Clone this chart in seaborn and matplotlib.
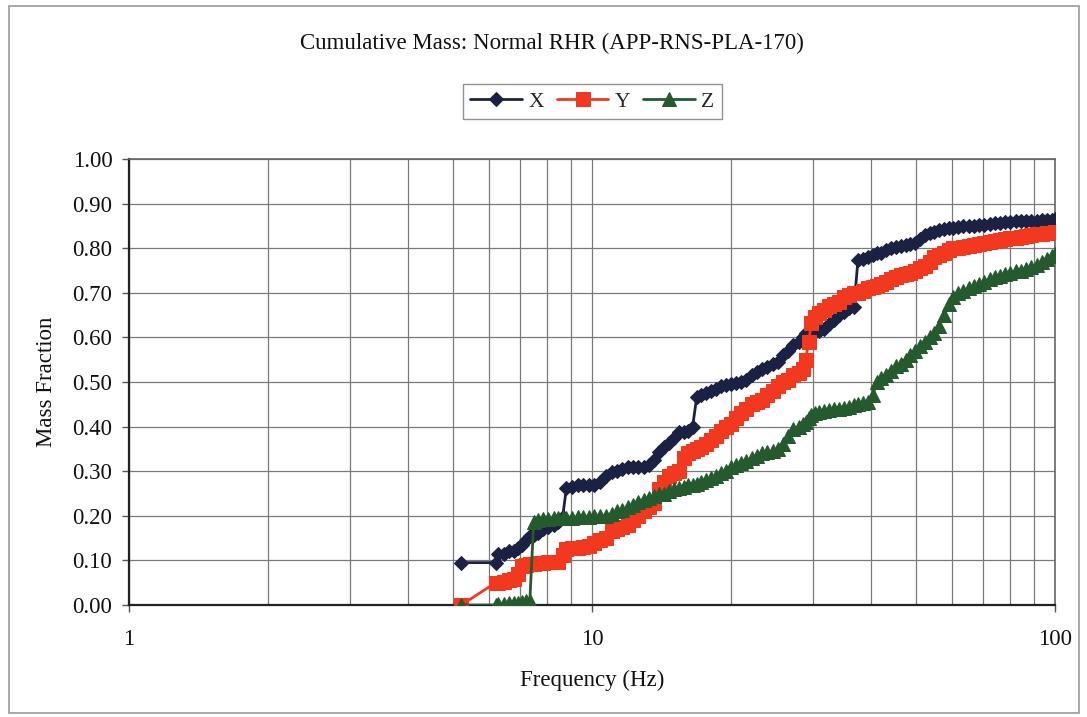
import matplotlib
matplotlib.use("Agg")
import matplotlib.pyplot as plt
from matplotlib.patches import Rectangle
from matplotlib.ticker import FixedLocator, NullFormatter, FixedFormatter
import numpy as np
import pandas as pd
import seaborn as sns

# Mode frequencies (Hz) shared by all three directions
freq = [5.22, 6.19, 6.28, 6.44, 6.61, 6.77, 6.93, 7.06, 7.21, 7.34,
        7.48, 7.63, 7.82, 8.03, 8.27, 8.45, 8.64, 8.80, 9.05, 9.31,
        9.58, 9.86, 10.12, 10.42, 10.73, 11.02, 11.31, 11.63, 11.95, 12.27,
        12.58, 12.92, 13.27, 13.62, 13.95, 14.31, 14.68, 15.04, 15.41, 15.76,
        16.12, 16.49, 16.83, 17.21, 17.62, 18.05, 18.51, 18.96, 19.44, 19.93,
        20.45, 20.98, 21.55, 22.14, 22.71, 23.30, 23.93, 24.55, 25.18, 25.86,
        26.52, 27.21, 27.93, 28.51, 28.94, 29.35, 29.78, 30.25, 30.90, 31.62,
        32.45, 33.28, 34.12, 35.01, 35.95, 36.80, 37.52, 38.45, 39.41, 40.38,
        41.20, 42.15, 43.18, 44.26, 45.29, 46.41, 47.56, 48.72, 49.85, 51.03,
        52.32, 53.60, 54.85, 56.20, 57.55, 58.90, 60.30, 61.80, 63.40, 65.10,
        66.80, 68.55, 70.40, 72.30, 74.20, 76.10, 78.05, 80.10, 82.25, 84.40,
        86.60, 88.90, 91.25, 93.60, 96.05, 98.40, 99.90]

# Cumulative mass fraction, X direction
mass_x = [0.095, 0.095, 0.115, 0.115, 0.120, 0.122, 0.128, 0.135, 0.145, 0.155,
          0.158, 0.162, 0.170, 0.175, 0.180, 0.185, 0.197, 0.262, 0.265, 0.268,
          0.268, 0.270, 0.270, 0.275, 0.290, 0.298, 0.300, 0.305, 0.310, 0.310,
          0.310, 0.310, 0.315, 0.325, 0.343, 0.355, 0.363, 0.375, 0.388, 0.388,
          0.390, 0.400, 0.466, 0.470, 0.475, 0.480, 0.485, 0.490, 0.493, 0.495,
          0.497, 0.500, 0.505, 0.515, 0.523, 0.530, 0.534, 0.540, 0.545, 0.560,
          0.570, 0.583, 0.590, 0.600, 0.610, 0.612, 0.612, 0.612, 0.615, 0.620,
          0.630, 0.640, 0.650, 0.658, 0.665, 0.668, 0.774, 0.776, 0.780, 0.785,
          0.790, 0.790, 0.795, 0.800, 0.803, 0.805, 0.808, 0.810, 0.812, 0.820,
          0.830, 0.834, 0.836, 0.840, 0.842, 0.845, 0.846, 0.848, 0.849, 0.850,
          0.850, 0.852, 0.853, 0.855, 0.856, 0.857, 0.858, 0.859, 0.860, 0.860,
          0.861, 0.862, 0.862, 0.863, 0.864, 0.864, 0.865]

# Cumulative mass fraction, Y direction
mass_y = [0.000, 0.050, 0.050, 0.052, 0.055, 0.058, 0.070, 0.088, 0.090, 0.092,
          0.093, 0.094, 0.095, 0.096, 0.097, 0.097, 0.112, 0.125, 0.127, 0.128,
          0.130, 0.132, 0.140, 0.146, 0.150, 0.165, 0.170, 0.175, 0.180, 0.190,
          0.200, 0.210, 0.220, 0.228, 0.260, 0.275, 0.290, 0.295, 0.300, 0.330,
          0.340, 0.345, 0.350, 0.355, 0.360, 0.370, 0.380, 0.390, 0.400, 0.405,
          0.420, 0.430, 0.440, 0.450, 0.455, 0.460, 0.470, 0.480, 0.490, 0.500,
          0.505, 0.515, 0.520, 0.530, 0.550, 0.590, 0.632, 0.645, 0.655, 0.662,
          0.670, 0.676, 0.680, 0.690, 0.695, 0.700, 0.700, 0.705, 0.710, 0.713,
          0.716, 0.720, 0.725, 0.730, 0.735, 0.740, 0.742, 0.745, 0.750, 0.755,
          0.760, 0.770, 0.780, 0.785, 0.790, 0.795, 0.800, 0.800, 0.803, 0.806,
          0.808, 0.810, 0.812, 0.814, 0.816, 0.818, 0.820, 0.822, 0.824, 0.826,
          0.828, 0.830, 0.832, 0.833, 0.834, 0.835, 0.836]

# Cumulative mass fraction, Z direction
mass_z = [0.000, 0.000, 0.003, 0.003, 0.004, 0.005, 0.005, 0.006, 0.008, 0.010,
          0.185, 0.190, 0.192, 0.193, 0.194, 0.195, 0.195, 0.195, 0.196, 0.197,
          0.197, 0.198, 0.199, 0.200, 0.200, 0.205, 0.210, 0.213, 0.220, 0.225,
          0.232, 0.235, 0.240, 0.245, 0.248, 0.250, 0.255, 0.260, 0.262, 0.265,
          0.268, 0.270, 0.272, 0.275, 0.280, 0.285, 0.290, 0.295, 0.300, 0.310,
          0.315, 0.318, 0.322, 0.330, 0.335, 0.340, 0.342, 0.345, 0.350, 0.360,
          0.380, 0.395, 0.400, 0.405, 0.410, 0.420, 0.425, 0.430, 0.432, 0.435,
          0.437, 0.440, 0.440, 0.442, 0.445, 0.448, 0.450, 0.452, 0.455, 0.470,
          0.500, 0.510, 0.515, 0.525, 0.535, 0.540, 0.550, 0.560, 0.570, 0.580,
          0.590, 0.600, 0.610, 0.625, 0.650, 0.675, 0.690, 0.700, 0.705, 0.710,
          0.715, 0.720, 0.725, 0.730, 0.735, 0.738, 0.742, 0.745, 0.748, 0.750,
          0.753, 0.757, 0.762, 0.768, 0.775, 0.782, 0.788]

series_names = ["X", "Y", "Z"]
series_colors = {"X": "#1b2142", "Y": "#f2391f", "Z": "#245a2e"}
series_markers = {"X": "D", "Y": "s", "Z": "^"}
series_msize = {"X": 7.5, "Y": 9.5, "Z": 10.5}

title_text = "Cumulative Mass: Normal RHR (APP-RNS-PLA-170)"
xlabel_text = "Frequency (Hz)"
ylabel_text = "Mass Fraction"
ytick_vals = [0.0, 0.1, 0.2, 0.3, 0.4, 0.5, 0.6, 0.7, 0.8, 0.9, 1.0]
xtick_vals = [1, 10, 100]

sns.set_theme(style="white")
plt.rcParams["font.family"] = ["Liberation Serif", "DejaVu Serif"]

fig = plt.figure(figsize=(10.87, 7.17), dpi=100)
ax = fig.add_axes([0.1187, 0.1562, 0.9706 - 0.1187, 0.7782 - 0.1562])

df = pd.DataFrame({"freq": freq, "X": mass_x, "Y": mass_y, "Z": mass_z})
for name in series_names:
    sns.lineplot(data=df, x="freq", y=name, ax=ax, color=series_colors[name],
                 marker=series_markers[name], markersize=series_msize[name],
                 markeredgecolor=series_colors[name], linewidth=2.0,
                 label=name, sort=False, zorder=3)

ax.set_xscale("log")
ax.set_xlim(1, 100)
ax.set_ylim(0, 1.0)

# grid: every decade subdivision and every 0.1 of mass fraction
minor_x = [m * d for d in (1, 10) for m in range(2, 10)]
ax.xaxis.set_major_locator(FixedLocator(xtick_vals))
ax.xaxis.set_major_formatter(FixedFormatter([str(v) for v in xtick_vals]))
ax.xaxis.set_minor_locator(FixedLocator(minor_x))
ax.xaxis.set_minor_formatter(NullFormatter())
ax.set_yticks(ytick_vals)
ax.set_yticklabels([f"{v:.2f}" for v in ytick_vals])
ax.grid(True, which="both", axis="x", color="#7a7a7a", linewidth=0.9)
ax.grid(True, which="major", axis="y", color="#7a7a7a", linewidth=0.9)
ax.set_axisbelow(True)

ax.tick_params(axis="both", which="major", direction="out", length=5,
               width=1.0, color="#555555", labelsize=16.5, pad=7, colors="#111111",
               bottom=True, left=True)
ax.tick_params(axis="x", which="minor", length=0)
ax.tick_params(axis="x", which="major", pad=12)

for side in ("left", "bottom"):
    ax.spines[side].set_color("#222222")
    ax.spines[side].set_linewidth(1.6)
for side in ("top", "right"):
    ax.spines[side].set_color("#666666")
    ax.spines[side].set_linewidth(1.2)

ax.set_xlabel(xlabel_text, fontsize=16.5, color="#111111")
ax.set_ylabel(ylabel_text, fontsize=16.5, color="#111111")
ax.xaxis.set_label_coords(0.5, -0.170)
ax.yaxis.set_label_coords(-0.0886, 0.5)
ax.xaxis.label.set_va("center")
ax.yaxis.label.set_va("center")

fig.text(0.508, 0.940, title_text, ha="center", va="center", fontsize=16.5,
         color="#111111")

handles, labels = ax.get_legend_handles_labels()
if ax.legend_:
    ax.legend_.remove()
leg = fig.legend(handles, labels, loc="center", bbox_to_anchor=(0.545, 0.858),
                 ncol=3, frameon=True, fancybox=False, fontsize=15.5,
                 handlelength=2.4, handletextpad=0.3, columnspacing=0.6,
                 borderpad=0.35, edgecolor="#777777")
leg.get_frame().set_linewidth(1.0)

fig.patches.append(Rectangle((0.008, 0.006), 0.985, 0.986, transform=fig.transFigure,
                             fill=False, edgecolor="#9a9a9a", linewidth=1.2))

fig.savefig("out.png", dpi=100)
